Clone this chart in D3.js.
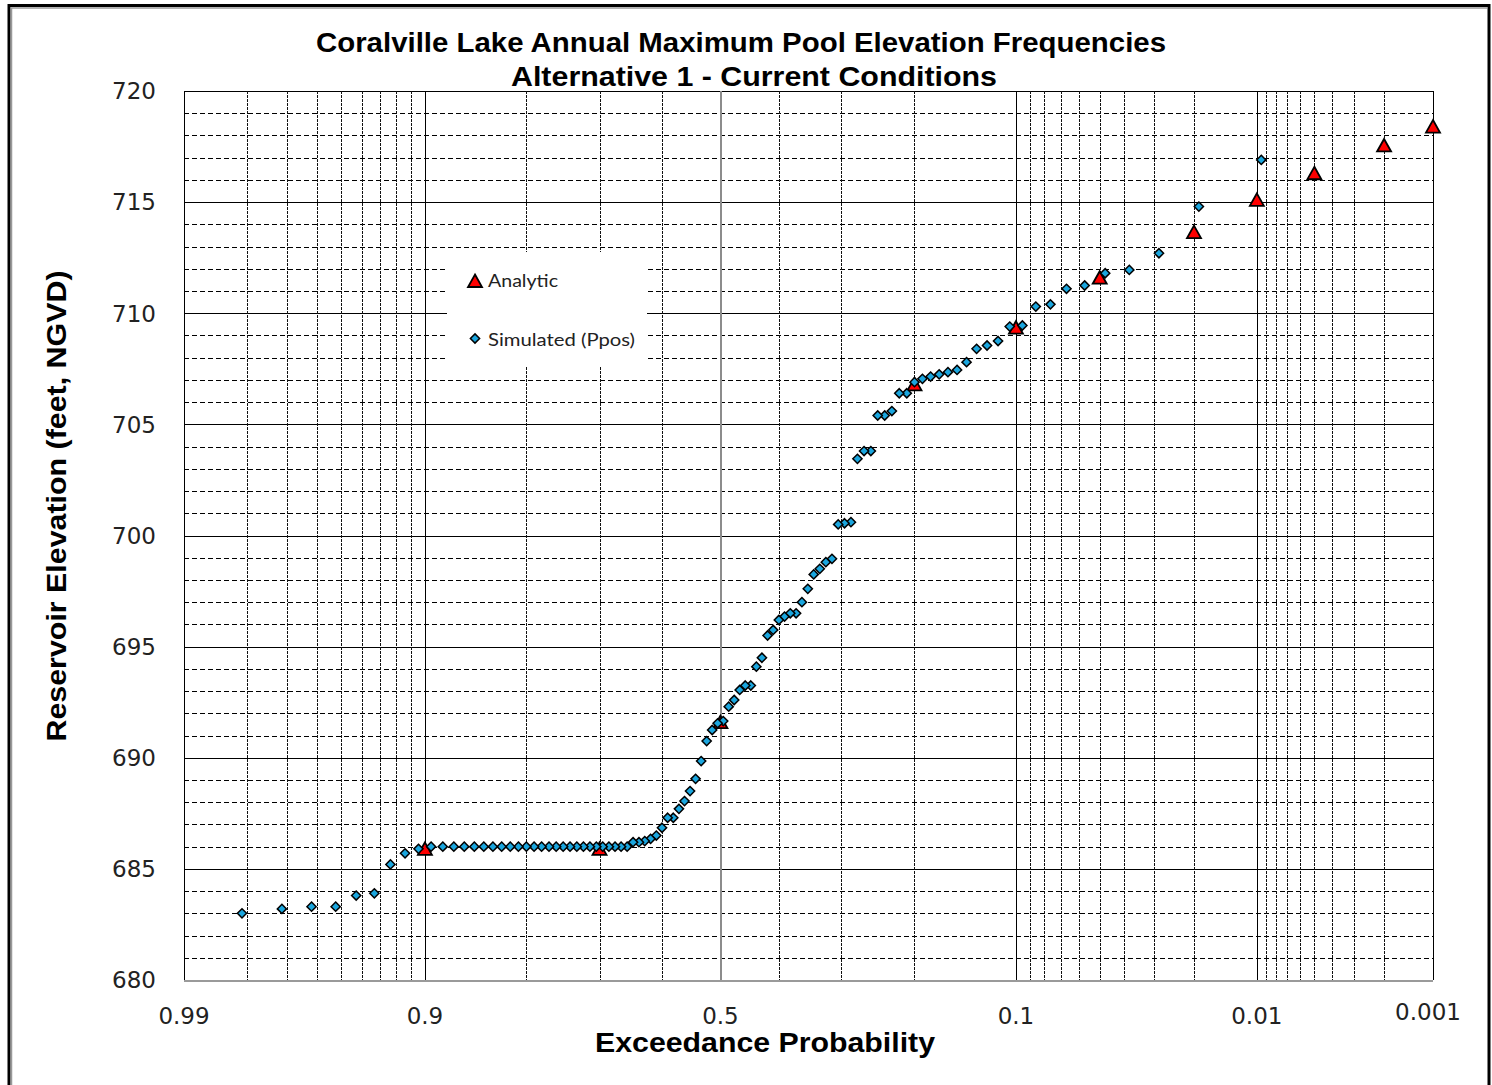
<!DOCTYPE html>
<html>
<head>
<meta charset="utf-8">
<script src="https://cdnjs.cloudflare.com/ajax/libs/d3/7.8.5/d3.min.js"></script>
<style>
  body { margin: 0; background: #fff; }
  .title { font-family: "Liberation Sans", Arial, sans-serif; font-weight: bold; font-size: 28px; fill: #000; }
  .tick-label { font-family: "DejaVu Sans", sans-serif; font-size: 23px; fill: #222; }
  .legend-text { font-family: Lato, sans-serif; font-size: 18px; fill: #222; }
</style>
</head>
<body>
<div id="wrapper"></div>
<script>
// Data
const simulatedProbs = [
  0.0095, 0.0190, 0.0286, 0.0381, 0.0476, 0.0571, 0.0667, 0.0762, 0.0857, 0.0952,
  0.1048, 0.1143, 0.1238, 0.1333, 0.1429, 0.1524, 0.1619, 0.1714, 0.1810, 0.1905,
  0.2000, 0.2095, 0.2190, 0.2286, 0.2381, 0.2476, 0.2571, 0.2667, 0.2762, 0.2857,
  0.2952, 0.3048, 0.3143, 0.3238, 0.3333, 0.3429, 0.3524, 0.3619, 0.3714, 0.3810,
  0.3905, 0.4000, 0.4095, 0.4190, 0.4286, 0.4381, 0.4476, 0.4571, 0.4667, 0.4762,
  0.4857, 0.4952, 0.5048, 0.5143, 0.5238, 0.5333, 0.5429, 0.5524, 0.5619, 0.5714,
  0.5810, 0.5905, 0.6000, 0.6095, 0.6190, 0.6286, 0.6381, 0.6476, 0.6571, 0.6667,
  0.6762, 0.6857, 0.6952, 0.7048, 0.7143, 0.7238, 0.7333, 0.7429, 0.7524, 0.7619,
  0.7714, 0.7810, 0.7905, 0.8000, 0.8095, 0.8190, 0.8286, 0.8381, 0.8476, 0.8571,
  0.8667, 0.8762, 0.8857, 0.8952, 0.9048, 0.9143, 0.9238, 0.9333, 0.9429, 0.9524,
  0.9619, 0.9714, 0.9810
]
const simulatedElevs = [
  716.9, 714.8, 712.7, 711.95, 711.8, 711.25, 711.1, 710.4, 710.3, 709.45,
  709.4, 708.75, 708.55, 708.4, 707.8, 707.45, 707.35, 707.25, 707.15, 707.05,
  706.9, 706.4, 706.4, 705.6, 705.4, 705.4, 703.8, 703.8, 703.45, 700.6,
  700.55, 700.5, 698.95, 698.8, 698.5, 698.25, 697.6, 697.0, 696.5, 696.5,
  696.35, 696.2, 695.75, 695.5, 694.5, 694.1, 693.25, 693.25, 693.05, 692.6,
  692.3, 691.65, 691.55, 691.25, 690.75, 689.85, 689.05, 688.5, 688.05, 687.7,
  687.3, 687.3, 686.85, 686.5, 686.35, 686.25, 686.2, 686.2, 686.0, 686.0,
  686.0, 686.0, 686.0, 686.0, 686.0, 686.0, 686.0, 686.0, 686.0, 686.0,
  686.0, 686.0, 686.0, 686.0, 686.0, 686.0, 686.0, 686.0, 686.0, 686.0,
  686.0, 686.0, 686.0, 686.0, 685.9, 685.7, 685.2, 683.9, 683.8, 683.3,
  683.3, 683.2, 683.0
]
const analyticProbs = [0.9, 0.7, 0.5, 0.2, 0.1, 0.05, 0.02, 0.01, 0.005, 0.002, 0.001]
const analyticElevs = [685.9, 685.9, 691.6, 706.8, 709.35, 711.6, 713.65, 715.1, 716.3, 717.55, 718.4]

const majorProbTicks = [0.99, 0.9, 0.5, 0.1, 0.01, 0.001]
const minorProbTicks = [
  0.98, 0.97, 0.96, 0.95, 0.94, 0.93, 0.92, 0.91,
  0.8, 0.7, 0.6, 0.4, 0.3, 0.2,
  0.09, 0.08, 0.07, 0.06, 0.05, 0.04, 0.03, 0.02,
  0.009, 0.008, 0.007, 0.006, 0.005, 0.004, 0.003, 0.002
]
const elevationLabels = [680, 685, 690, 695, 700, 705, 710, 715, 720]
const elevationDomain = [680, 720]

const titleLines = [
  "Coralville Lake Annual Maximum Pool Elevation Frequencies",
  "Alternative 1 - Current Conditions"
]
const seriesNames = ["Analytic", "Simulated (Ppos)"]

// inverse normal cdf (Acklam), used for the probability axis
function probit(p) {
  const a = [-3.969683028665376e+01, 2.209460984245205e+02, -2.759285104469687e+02, 1.383577518672690e+02, -3.066479806614716e+01, 2.506628277459239e+00]
  const b = [-5.447609879822406e+01, 1.615858368580409e+02, -1.556989798598866e+02, 6.680131188771972e+01, -1.328068155288572e+01]
  const c = [-7.784894002430293e-03, -3.223964580411365e-01, -2.400758277161838e+00, -2.549732539343734e+00, 4.374664141464968e+00, 2.938163982698783e+00]
  const d = [7.784695709041462e-03, 3.224671290700398e-01, 2.445134137142996e+00, 3.754408661907416e+00]
  const pLow = 0.02425
  let q, r
  if (p < pLow) {
    q = Math.sqrt(-2 * Math.log(p))
    return (((((c[0]*q+c[1])*q+c[2])*q+c[3])*q+c[4])*q+c[5]) / ((((d[0]*q+d[1])*q+d[2])*q+d[3])*q+1)
  } else if (p <= 1 - pLow) {
    q = p - 0.5
    r = q * q
    return (((((a[0]*r+a[1])*r+a[2])*r+a[3])*r+a[4])*r+a[5])*q / (((((b[0]*r+b[1])*r+b[2])*r+b[3])*r+b[4])*r+1)
  }
  q = Math.sqrt(-2 * Math.log(1 - p))
  return -(((((c[0]*q+c[1])*q+c[2])*q+c[3])*q+c[4])*q+c[5]) / ((((d[0]*q+d[1])*q+d[2])*q+d[3])*q+1)
}

function drawChart() {
  const simulated = simulatedProbs.map((p, i) => ({ p, elev: simulatedElevs[i] }))
  const analytic = analyticProbs.map((p, i) => ({ p, elev: analyticElevs[i] }))

  // dimensions
  let dimensions = {
    width: 1492,
    height: 1085,
    margin: { top: 91, right: 59, bottom: 105, left: 184 },
  }
  dimensions.boundedWidth = dimensions.width - dimensions.margin.left - dimensions.margin.right
  dimensions.boundedHeight = dimensions.height - dimensions.margin.top - dimensions.margin.bottom

  const wrapper = d3.select("#wrapper")
    .append("svg")
      .attr("width", dimensions.width)
      .attr("height", dimensions.height)
      .style("display", "block")

  // outer frame
  wrapper.append("rect")
    .attr("x", 9).attr("y", 5.5)
    .attr("width", dimensions.width - 12).attr("height", dimensions.height + 20)
    .attr("fill", "none").attr("stroke", "#000").attr("stroke-width", 3)
  wrapper.append("path")
    .attr("d", `M11.5,${dimensions.height}V8H${dimensions.width - 5}`)
    .attr("fill", "none").attr("stroke", "#999").attr("stroke-width", 1.5)

  const bounds = wrapper.append("g")
    .attr("transform", `translate(${dimensions.margin.left}, ${dimensions.margin.top})`)

  // scales
  const zScale = d3.scaleLinear()
    .domain([probit(0.99), probit(0.001)])
    .range([0, dimensions.boundedWidth])
  const xScale = p => zScale(probit(p))

  const yScale = d3.scaleLinear()
    .domain(elevationDomain)
    .range([dimensions.boundedHeight, 0])

  // grid
  const gridGroup = bounds.append("g").attr("shape-rendering", "crispEdges")
  const feet = d3.range(elevationDomain[0] + 1, elevationDomain[1] + 1)
  gridGroup.selectAll(".h-grid")
    .data(feet)
    .enter().append("line")
      .attr("class", "h-grid")
      .attr("x1", 0)
      .attr("x2", dimensions.boundedWidth)
      .attr("y1", d => Math.round(yScale(d)) + 0.5)
      .attr("y2", d => Math.round(yScale(d)) + 0.5)
      .attr("stroke", "#000")
      .attr("stroke-width", 1)
      .attr("stroke-dasharray", d => d % 5 == 0 ? null : "5,3")

  gridGroup.selectAll(".v-minor")
    .data(minorProbTicks)
    .enter().append("line")
      .attr("class", "v-minor")
      .attr("x1", d => Math.round(xScale(d)) + 0.5)
      .attr("x2", d => Math.round(xScale(d)) + 0.5)
      .attr("y1", 0)
      .attr("y2", dimensions.boundedHeight)
      .attr("stroke", "#111")
      .attr("stroke-width", 1)
      .attr("stroke-dasharray", "3,1")

  gridGroup.selectAll(".v-major")
    .data(majorProbTicks)
    .enter().append("line")
      .attr("class", "v-major")
      .attr("x1", d => Math.round(xScale(d)) + 0.5)
      .attr("x2", d => Math.round(xScale(d)) + 0.5)
      .attr("y1", 0)
      .attr("y2", dimensions.boundedHeight)
      .attr("stroke", d => d == 0.5 ? "#8c8c8c" : "#000")
      .attr("stroke-width", d => d == 0.5 ? 2 : 1)

  // bottom axis line
  gridGroup.append("line")
    .attr("x1", 0).attr("x2", dimensions.boundedWidth)
    .attr("y1", dimensions.boundedHeight + 0.5).attr("y2", dimensions.boundedHeight + 0.5)
    .attr("stroke", "#9a9a9a").attr("stroke-width", 2)

  // tick labels
  bounds.selectAll(".y-label")
    .data(elevationLabels)
    .enter().append("text")
      .attr("class", "tick-label y-label")
      .attr("x", -28)
      .attr("y", d => yScale(d))
      .attr("dy", "0.36em")
      .attr("text-anchor", "end")
      .text(d => d)

  bounds.selectAll(".x-label")
    .data(majorProbTicks)
    .enter().append("text")
      .attr("class", "tick-label x-label")
      .attr("x", d => xScale(d) + (d == 0.001 ? -5 : 0))
      .attr("y", d => dimensions.boundedHeight + (d == 0.001 ? 40 : 44))
      .attr("text-anchor", "middle")
      .text(d => d)

  // titles
  wrapper.append("text")
    .attr("class", "title")
    .attr("x", 741).attr("y", 52)
    .attr("text-anchor", "middle")
    .attr("textLength", 850).attr("lengthAdjust", "spacingAndGlyphs")
    .text(titleLines[0])
  wrapper.append("text")
    .attr("class", "title")
    .attr("x", 754).attr("y", 86)
    .attr("text-anchor", "middle")
    .attr("textLength", 486).attr("lengthAdjust", "spacingAndGlyphs")
    .text(titleLines[1])
  wrapper.append("text")
    .attr("class", "title")
    .attr("x", 765).attr("y", 1052)
    .attr("text-anchor", "middle")
    .attr("textLength", 340).attr("lengthAdjust", "spacingAndGlyphs")
    .text("Exceedance Probability")
  wrapper.append("text")
    .attr("class", "title")
    .attr("transform", "translate(66, 506) rotate(-90)")
    .attr("text-anchor", "middle")
    .attr("textLength", 471).attr("lengthAdjust", "spacingAndGlyphs")
    .text("Reservoir Elevation (feet, NGVD)")

  // markers
  const trianglePath = "M0,-6.5L7,6L-7,6Z"
  const diamondPath = "M0,-4.6L4.6,0L0,4.6L-4.6,0Z"

  // legend
  const legendGroup = wrapper.append("g")
  legendGroup.append("rect")
    .attr("x", 447).attr("y", 252)
    .attr("width", 200).attr("height", 115)
    .attr("fill", "#fff")
  legendGroup.append("path")
    .attr("d", trianglePath)
    .attr("transform", "translate(475, 281)")
    .attr("fill", "#ff0000").attr("stroke", "#000").attr("stroke-width", 1.8)
  legendGroup.append("path")
    .attr("d", diamondPath)
    .attr("transform", "translate(475, 338.5)")
    .attr("fill", "#1ba6de").attr("stroke", "#000").attr("stroke-width", 1.5)
  legendGroup.selectAll(".legend-text")
    .data(seriesNames)
    .enter().append("text")
      .attr("class", "legend-text")
      .attr("x", 488)
      .attr("y", (d, i) => i == 0 ? 287 : 346)
      .attr("textLength", (d, i) => i == 0 ? 70 : 147)
      .attr("lengthAdjust", "spacingAndGlyphs")
      .text(d => d)

  const markersGroup = bounds.append("g")
  markersGroup.selectAll(".analytic")
    .data(analytic)
    .enter().append("path")
      .attr("class", "analytic")
      .attr("d", trianglePath)
      .attr("transform", d => `translate(${xScale(d.p)}, ${yScale(d.elev)})`)
      .attr("fill", "#ff0000")
      .attr("stroke", "#000")
      .attr("stroke-width", 1.8)

  markersGroup.selectAll(".simulated")
    .data(simulated)
    .enter().append("path")
      .attr("class", "simulated")
      .attr("d", diamondPath)
      .attr("transform", d => `translate(${xScale(d.p)}, ${yScale(d.elev)})`)
      .attr("fill", "#1ba6de")
      .attr("stroke", "#000")
      .attr("stroke-width", 1.5)
}

drawChart()
</script>
</body>
</html>
